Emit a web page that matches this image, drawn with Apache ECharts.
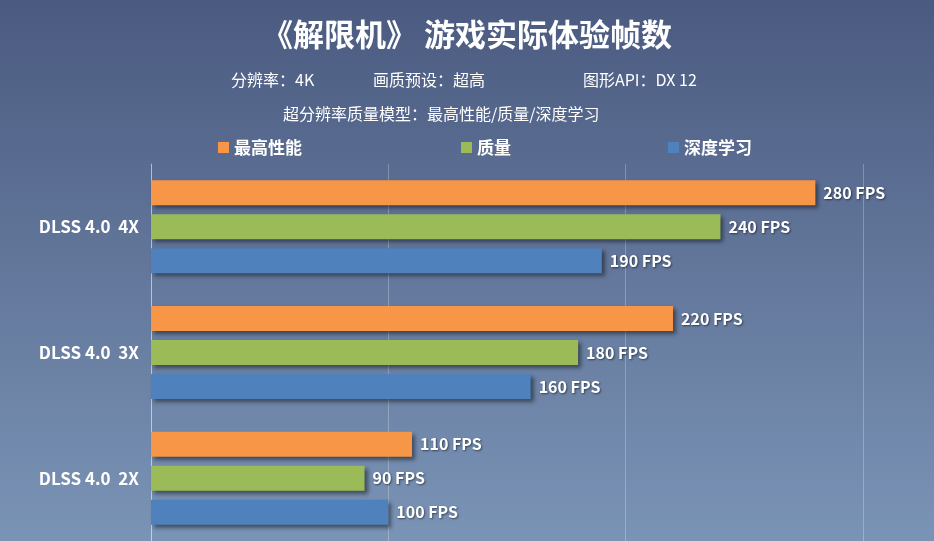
<html>
<head>
    <script src="https://cdn.jsdelivr.net/npm/echarts@6/dist/echarts.min.js"></script>
    <style>
        body { margin: 0 }
        #chart { width: 934px; height: 541px; }
    </style>
</head>
<body>
    <div id="chart"></div>
    <script>
        const categories = ['DLSS 4.0  4X', 'DLSS 4.0  3X', 'DLSS 4.0  2X'];
        const seriesNames = ['最高性能', '质量', '深度学习'];
        const perf = [280, 220, 110];
        const quality = [240, 180, 90];
        const dl = [190, 160, 100];
        const colors = ['#F79646', '#9BBB59', '#4F81BD'];

        const myChart = echarts.init(document.getElementById('chart'));
        const font = '"Noto Sans CJK SC", "Noto Sans", sans-serif';

        const makeSeries = (name, data, i) => ({
            name: name,
            type: 'bar',
            data: data,
            barWidth: 25,
            barGap: '36%',
            itemStyle: {
                color: colors[i],
                shadowColor: 'rgba(0,0,0,0.45)',
                shadowBlur: 4,
                shadowOffsetX: 3,
                shadowOffsetY: 3
            },
            label: {
                show: true,
                position: 'right',
                distance: 8,
                formatter: '{c} FPS',
                color: '#fff',
                fontWeight: 'bold',
                fontSize: 16,
                fontFamily: font,
                textShadowColor: 'rgba(0,0,0,0.5)',
                textShadowBlur: 2,
                textShadowOffsetX: 1,
                textShadowOffsetY: 1
            }
        });

        const sub = { color: '#fff', fontSize: 16, fontWeight: 'normal', fontFamily: font };
        const legendX = [213, 456, 663];
        const option = {
            backgroundColor: {
                type: 'linear', x: 0, y: 0, x2: 0, y2: 1,
                colorStops: [{ offset: 0, color: '#4b5a80' }, { offset: 1, color: '#7a94b6' }]
            },
            title: [
                { text: '《解限机》 游戏实际体验帧数', left: 'center', top: 14,
                  textStyle: { color: '#fff', fontSize: 31, fontWeight: 'bold', fontFamily: font } },
                { text: '分辨率：4K', left: 226, top: 67, textStyle: sub },
                { text: '画质预设：超高', left: 368, top: 67, textStyle: sub },
                { text: '图形API：DX 12', left: 578, top: 67, textStyle: sub },
                { text: '超分辨率质量模型：最高性能/质量/深度学习', left: 278, top: 101, textStyle: sub }
            ],
            legend: seriesNames.map((n, i) => ({
                data: [n], left: legendX[i], top: 134, icon: 'rect',
                itemWidth: 11, itemHeight: 11,
                textStyle: { color: '#fff', fontSize: 17, fontWeight: 'bold', fontFamily: font }
            })),
            grid: { left: 151, right: 0, top: 164, bottom: 0 },
            xAxis: {
                type: 'value', min: 0, max: 330, interval: 100,
                axisLabel: { show: false },
                splitLine: { lineStyle: { color: 'rgba(255,255,255,0.25)' } }
            },
            yAxis: {
                type: 'category', data: categories, inverse: true,
                axisTick: { show: false },
                axisLine: { lineStyle: { color: 'rgba(255,255,255,0.4)' } },
                axisLabel: { color: '#fff', fontSize: 17, fontWeight: 'bold', fontFamily: font, margin: 12 }
            },
            series: [
                makeSeries(seriesNames[0], perf, 0),
                makeSeries(seriesNames[1], quality, 1),
                makeSeries(seriesNames[2], dl, 2)
            ]
        };
        myChart.setOption(option);
    </script>
</body>
</html>
